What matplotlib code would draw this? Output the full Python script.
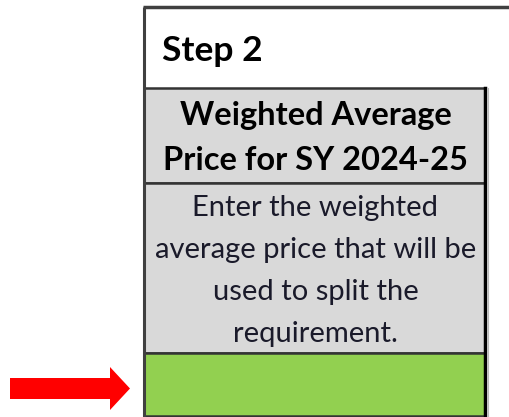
import matplotlib
matplotlib.use("Agg")
import matplotlib.pyplot as plt
from matplotlib.patches import Rectangle, FancyArrow

# cell contents, top to bottom
title = "Step 2"
header_lines = ["Weighted Average", "Price for SY 2024-25"]
desc_lines = ["Enter the weighted", "average price that will be",
              "used to split the", "requirement."]
cell_colors = ["#D9D9D9", "#D9D9D9", "#92D050"]

plt.rcParams['font.family'] = ['Lato', 'DejaVu Sans']

fig = plt.figure(figsize=(5.10, 4.17), dpi=100)
ax = fig.add_axes([0, 0, 1, 1])
ax.set_xlim(0, 510)
ax.set_ylim(417, 0)
ax.axis("off")

# outer frame of the step box
ax.plot([144, 144], [417, 7], color="#404040", lw=2.2, solid_capstyle="butt")
ax.plot([143, 510], [7, 7], color="#404040", lw=2.5, solid_capstyle="butt")

ax.text(162, 51, title, fontsize=25.5, fontweight="bold", va="center",
        ha="left", color="black")

# table cells
x0, x1 = 144, 485
rows = [(88, 183), (183, 353), (353, 416)]
for (top, bot), c in zip(rows, cell_colors):
    ax.add_patch(Rectangle((x0, top), x1 - x0, bot - top, facecolor=c,
                           edgecolor="#333333", lw=1.8))
ax.plot([485, 485], [88, 417], color="black", lw=2.5)
ax.plot([488, 488], [88, 417], color="#bbbbbb", lw=0.8)

cx = (x0 + x1) / 2 + 1
for i, s in enumerate(header_lines):
    ax.text(cx, 115 + i * 45, s, fontsize=23.5, fontweight="bold",
            ha="center", va="center", color="black")
for i, s in enumerate(desc_lines):
    ax.text(cx, 208 + i * 42, s, fontsize=21, ha="center", va="center",
            color="#1a1a2a")

# red pointer arrow
ax.add_patch(FancyArrow(10, 388.5, 120, 0, width=21, head_width=43,
                        head_length=20, length_includes_head=True,
                        color="#FF0000", lw=0))

fig.savefig("out.png", dpi=100)
